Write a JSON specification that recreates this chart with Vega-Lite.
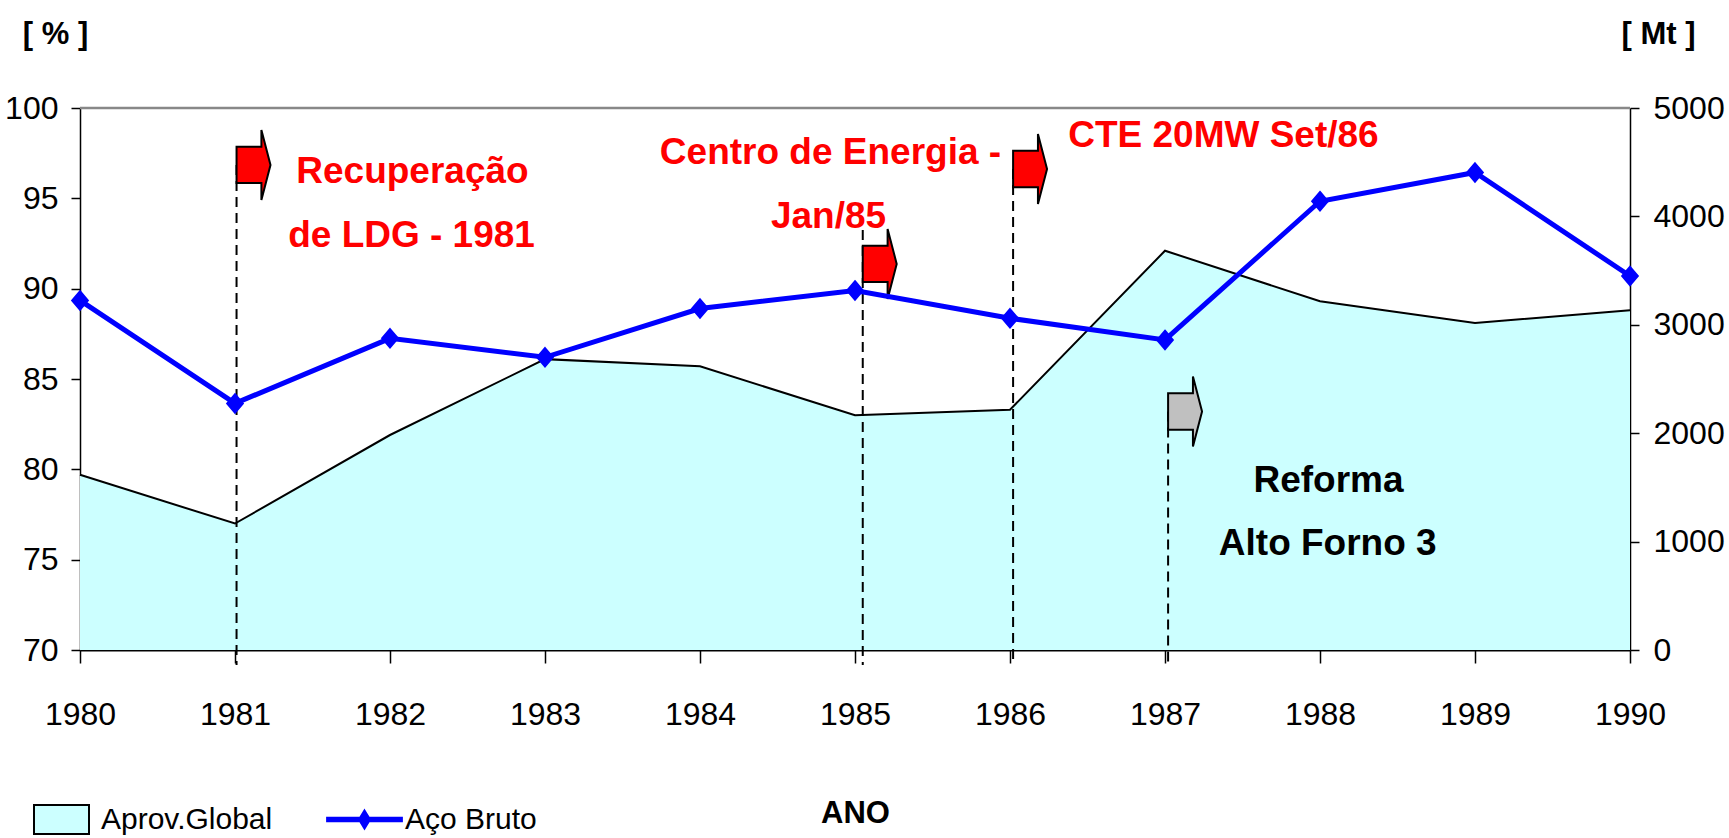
{
  "$schema": "https://vega.github.io/schema/vega-lite/v6.json",
  "width": 1550,
  "height": 542,
  "autosize": {"type": "none"},
  "padding": {"left": 80, "top": 108, "right": 99, "bottom": 188},
  "background": "white",
  "config": {
    "view": {"stroke": null},
    "font": "Liberation Sans",
    "axis": {
      "grid": false,
      "zindex": 1,
      "labelFont": "Liberation Sans",
      "labelFontSize": 32,
      "labelColor": "black",
      "titleFont": "Liberation Sans",
      "titleFontSize": 31,
      "titleFontWeight": "bold",
      "titleColor": "black",
      "tickColor": "black",
      "domainColor": "black",
      "domainWidth": 1.5,
      "tickWidth": 1.5,
      "labelFlush": false,
      "labelOverlap": false
    },
    "legend": {"padding": 0}
  },
  "datasets": {
    "series": [
      {"ano": 1980, "aprov": 79.7, "aco": 3225},
      {"ano": 1981, "aprov": 77.0, "aco": 2275},
      {"ano": 1982, "aprov": 81.9, "aco": 2875},
      {"ano": 1983, "aprov": 86.1, "aco": 2700},
      {"ano": 1984, "aprov": 85.7, "aco": 3150},
      {"ano": 1985, "aprov": 83.0, "aco": 3317},
      {"ano": 1986, "aprov": 83.3, "aco": 3060},
      {"ano": 1987, "aprov": 92.1, "aco": 2860},
      {"ano": 1988, "aprov": 89.3, "aco": 4140},
      {"ano": 1989, "aprov": 88.1, "aco": 4405},
      {"ano": 1990, "aprov": 88.8, "aco": 3450}
    ],
    "setas": [
      {"ano": 1981.01, "pct": 96.85, "tipo": "evento"},
      {"ano": 1985.05, "pct": 91.37, "tipo": "evento"},
      {"ano": 1986.02, "pct": 96.62, "tipo": "evento"},
      {"ano": 1987.02, "pct": 83.2, "tipo": "reforma"}
    ],
    "marcos": [
      {"ano": 1981.01, "topo": 96.85},
      {"ano": 1985.05, "topo": 93.25},
      {"ano": 1986.02, "topo": 96.62},
      {"ano": 1987.02, "topo": 83.2}
    ],
    "notas": [
      {"ano": 1982.145, "pct": 95.85, "texto": "Recuperação"},
      {"ano": 1982.139, "pct": 92.31, "texto": "de LDG - 1981"},
      {"ano": 1984.842, "pct": 96.9, "texto": "Centro de Energia -"},
      {"ano": 1984.829, "pct": 93.36, "texto": "Jan/85"},
      {"ano": 1987.377, "pct": 97.84, "texto": "CTE 20MW Set/86"}
    ],
    "notas2": [
      {"ano": 1988.055, "pct": 78.75, "texto": "Reforma"},
      {"ano": 1988.05, "pct": 75.26, "texto": "Alto Forno 3"}
    ]
  },
  "layer": [
    {
      "data": {"name": "series"},
      "mark": {"type": "area", "opacity": 1},
      "encoding": {
        "x": {
          "field": "ano", "type": "quantitative",
          "scale": {"domain": [1980, 1990], "nice": false, "zero": false},
          "axis": {
            "values": [1980, 1981, 1982, 1983, 1984, 1985, 1986, 1987, 1988, 1989, 1990],
            "format": "d",
            "title": "ANO",
            "titleFontSize": 31,
            "tickSize": 13,
            "labelPadding": 36,
            "domainWidth": 2,
            "titleX": 775,
            "titleY": 172,
            "titleAlign": "center",
            "titleBaseline": "alphabetic"
          }
        },
        "y": {
          "field": "aprov", "type": "quantitative",
          "scale": {"domain": [70, 100], "nice": false, "zero": false},
          "axis": {
            "orient": "left",
            "values": [70, 75, 80, 85, 90, 95, 100],
            "format": "d",
            "title": "[ % ]",
            "titleAngle": 0,
            "titleX": -25,
            "titleY": -65,
            "titleAlign": "center",
            "titleBaseline": "alphabetic",
            "tickSize": 9,
            "labelPadding": 13
          }
        },
        "y2": {"datum": 70},
        "fill": {
          "datum": "Aprov.Global", "type": "nominal",
          "scale": {"range": ["#CCFFFF"]},
          "legend": {
            "orient": "none",
            "legendX": -47,
            "legendY": 683,
            "title": null,
            "labelFont": "Liberation Sans",
            "labelFontSize": 30,
            "labelColor": "black",
            "labelLimit": 0,
            "labelOffset": 11,
            "symbolType": "M-1,-0.53L1,-0.53L1,0.53L-1,0.53Z",
            "symbolSize": 3025,
            "symbolStrokeColor": "#000000",
            "symbolStrokeWidth": 2,
            "symbolOpacity": 1
          }
        }
      }
    },
    {
      "data": {"name": "series"},
      "mark": {"type": "line", "color": "black", "strokeWidth": 2},
      "encoding": {
        "x": {"field": "ano", "type": "quantitative", "scale": {"domain": [1980, 1990], "nice": false, "zero": false}},
        "y": {"field": "aprov", "type": "quantitative", "scale": {"domain": [70, 100], "nice": false, "zero": false}, "axis": null}
      }
    },
    {
      "data": {"values": [{}]},
      "mark": {"type": "rule", "color": "#888888", "strokeWidth": 2.5},
      "encoding": {
        "y": {"datum": 100, "type": "quantitative", "scale": {"domain": [70, 100], "nice": false, "zero": false}, "axis": null}
      }
    },
    {
      "data": {"name": "marcos"},
      "mark": {"type": "rule", "color": "black", "strokeWidth": 2, "strokeDash": [10, 6]},
      "encoding": {
        "x": {"field": "ano", "type": "quantitative", "scale": {"domain": [1980, 1990], "nice": false, "zero": false}},
        "y": {"field": "topo", "type": "quantitative", "scale": {"domain": [70, 100], "nice": false, "zero": false}, "axis": null},
        "y2": {"datum": 69.17}
      }
    },
    {
      "data": {"name": "setas"},
      "mark": {
        "type": "point",
        "shape": "M0,-0.52L0.71,-0.52L0.71,-1L0.97,0L0.71,1L0.71,0.52L0,0.52Z",
        "size": 4900,
        "filled": true,
        "opacity": 1,
        "stroke": "black",
        "strokeWidth": 2
      },
      "encoding": {
        "x": {"field": "ano", "type": "quantitative", "scale": {"domain": [1980, 1990], "nice": false, "zero": false}},
        "y": {"field": "pct", "type": "quantitative", "scale": {"domain": [70, 100], "nice": false, "zero": false}, "axis": null},
        "fill": {"condition": {"test": "datum.tipo === 'reforma'", "value": "#C0C0C0"}, "value": "#FF0000"}
      }
    },
    {
      "data": {"name": "notas"},
      "mark": {"type": "text", "font": "Liberation Sans", "fontWeight": "bold", "fontSize": 37, "color": "#FF0000", "align": "center", "baseline": "alphabetic"},
      "encoding": {
        "x": {"field": "ano", "type": "quantitative", "scale": {"domain": [1980, 1990], "nice": false, "zero": false}},
        "y": {"field": "pct", "type": "quantitative", "scale": {"domain": [70, 100], "nice": false, "zero": false}, "axis": null},
        "text": {"field": "texto"}
      }
    },
    {
      "data": {"name": "notas2"},
      "mark": {"type": "text", "font": "Liberation Sans", "fontWeight": "bold", "fontSize": 37, "color": "black", "align": "center", "baseline": "alphabetic"},
      "encoding": {
        "x": {"field": "ano", "type": "quantitative", "scale": {"domain": [1980, 1990], "nice": false, "zero": false}},
        "y": {"field": "pct", "type": "quantitative", "scale": {"domain": [70, 100], "nice": false, "zero": false}, "axis": null},
        "text": {"field": "texto"}
      }
    },
    {
      "data": {"name": "series"},
      "mark": {
        "type": "line",
        "strokeWidth": 5,
        "point": {"shape": "M0,-1L0.85,0L0,1L-0.85,0Z", "size": 340, "filled": true, "color": "#0000FF", "opacity": 1}
      },
      "encoding": {
        "x": {"field": "ano", "type": "quantitative", "scale": {"domain": [1980, 1990], "nice": false, "zero": false}},
        "y": {
          "field": "aco", "type": "quantitative",
          "scale": {"domain": [0, 5000], "nice": false},
          "axis": {
            "orient": "right",
            "values": [0, 1000, 2000, 3000, 4000, 5000],
            "format": "d",
            "title": "[ Mt ]",
            "titleAngle": 0,
            "titleX": 28,
            "titleY": -65,
            "titleAlign": "center",
            "titleBaseline": "alphabetic",
            "tickSize": 9,
            "labelPadding": 14
          }
        },
        "stroke": {
          "datum": "Aço Bruto", "type": "nominal",
          "scale": {"range": ["#0000FF"]},
          "legend": {
            "orient": "none",
            "legendX": 256,
            "legendY": 683,
            "title": null,
            "labelFont": "Liberation Sans",
            "labelFontSize": 30,
            "labelColor": "black",
            "labelLimit": 0,
            "labelOffset": 12,
            "symbolType": "M-1.36,-0.06L1.36,-0.06L1.36,0.06L-1.36,0.06Z M0,-0.33L0.2,0L0,0.33L-0.2,0Z",
            "symbolSize": 3025,
            "symbolFillColor": "#0000FF",
            "symbolStrokeWidth": 2,
            "symbolOpacity": 1
          }
        }
      }
    }
  ],
  "resolve": {"scale": {"y": "independent"}}
}
